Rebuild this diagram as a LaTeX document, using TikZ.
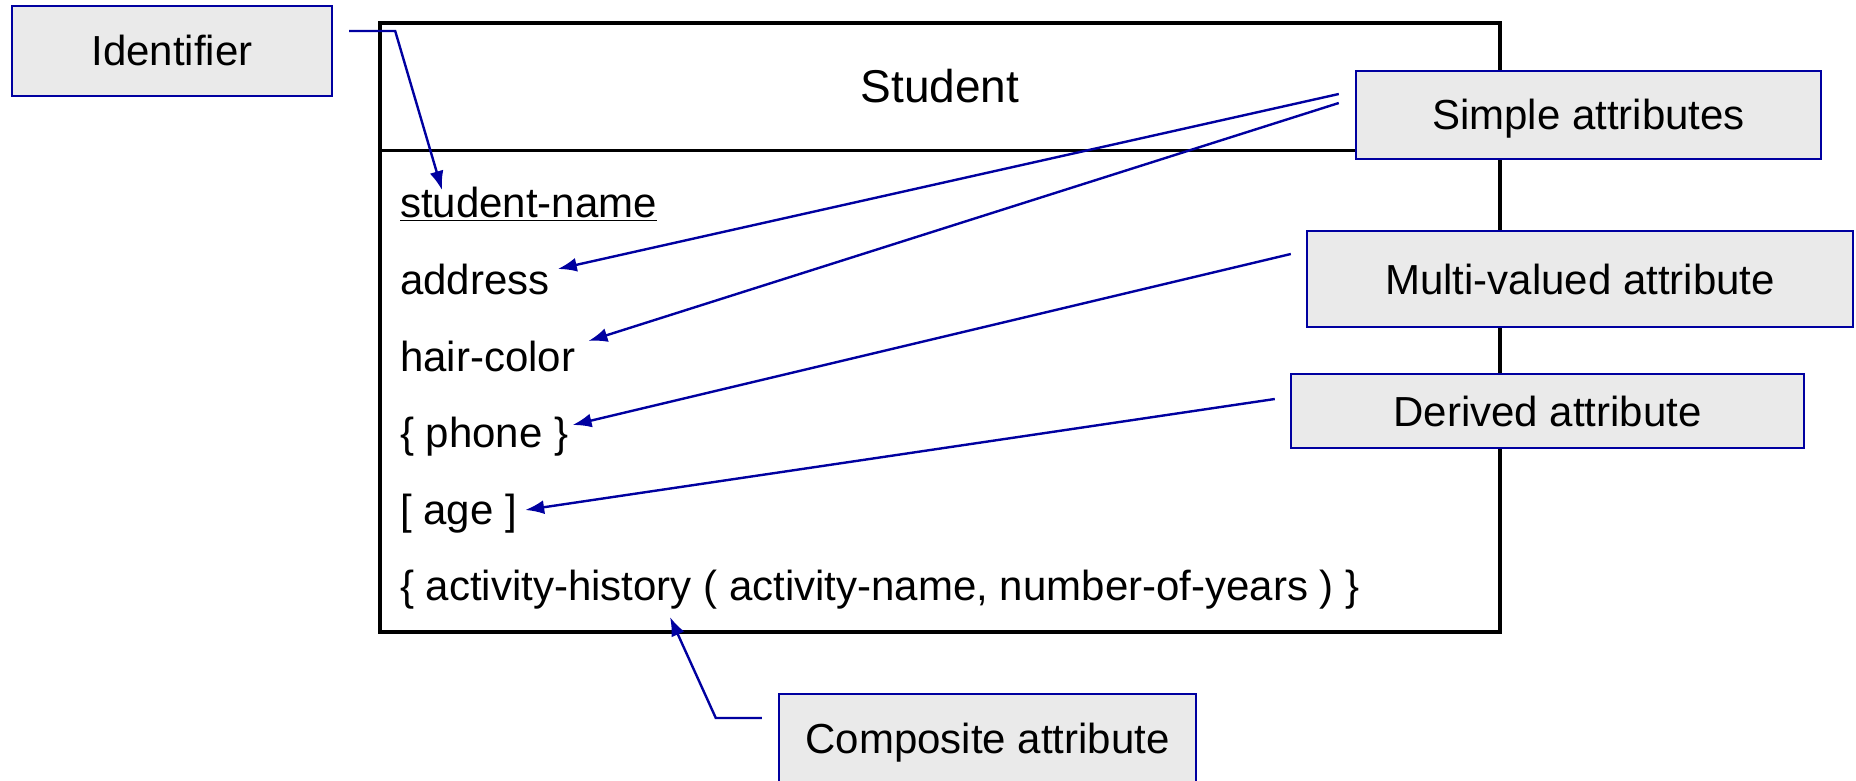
\documentclass[tikz,border=0pt]{standalone}
\usepackage{fontspec}
\setmainfont{Liberation Sans}
\usetikzlibrary{arrows.meta,positioning,calc}
\definecolor{callblue}{RGB}{0,0,160}
\definecolor{callgray}{RGB}{234,234,234}

\begin{document}
\begin{tikzpicture}
[x=1pt,y=-1pt,font=\fontsize{42}{50}\selectfont,
edge/.style={callblue,>={Latex[length=19pt,width=14pt]},line width=2.4pt},
callout/.style={draw=callblue,fill=callgray,line width=2.4pt,inner sep=0pt,
text height=30pt,text depth=0pt},
attr/.style={anchor=base west,inner sep=0pt}]
\useasboundingbox (0,0) rectangle (1856,781);
%%
\node[draw,line width=3.3pt,inner sep=0pt,minimum width=1120,minimum height=609]
(entity) at (940,327.5) {};
\node (title) [anchor=north,inner sep=0pt,minimum width=1120,minimum height=129,
text height=33pt,text depth=0pt,font=\fontsize{46}{54}\selectfont] at (entity.north) {Student};
\draw[line width=3.3pt] (title.south west) -- (title.south east);
%%
\node[attr] (sname) at (400,218) {\underline{student-name}};
\node[attr] (address) at (400,294) {address};
\node[attr] (hair) at (400,371) {hair-color};
\node[attr] (phone) at (400,447) {\{ phone \}};
\node[attr] (age) at (400,524) {[ age ]};
\node[attr] (activity) at (400,600) {\{ activity-history ( activity-name, number-of-years ) \}};
%%
\node[callout,minimum width=320,minimum height=90] (ident) at (172,51) {Identifier};
\node[callout,minimum width=465,minimum height=88] (simple) at (1588.5,115) {Simple attributes};
\node[callout,minimum width=546,minimum height=96] (multi) at (1580,279) {Multi-valued attribute};
\node[callout,minimum width=513,minimum height=74] (derived) at (1547.5,411) {Derived attribute};
\node[callout,minimum width=417,minimum height=88] (composite) at (987.5,738) {Composite attribute};
%%
\draw[edge,->] ([shift={(16,-20)}]ident.east) -- ++(46,0) -- ([shift={(42,-28)}]sname.base west);
\draw[edge,->] ([shift={(-16,-21)}]simple.west) -- ([shift={(8,-25)}]address.base east);
\draw[edge,->] ([shift={(-16,-12)}]simple.west) -- ([shift={(13,-30)}]hair.base east);
\draw[edge,->] ([shift={(-15,-25)}]multi.west) -- ([shift={(4,-22)}]phone.base east);
\draw[edge,->] ([shift={(-15,-12)}]derived.west) -- ([shift={(8,-14)}]age.base east);
\draw[edge,->] ([shift={(-16,-20)}]composite.west) -- ++(-46,0) -- ([shift={(270,17)}]activity.base west);
\end{tikzpicture}
\end{document}
